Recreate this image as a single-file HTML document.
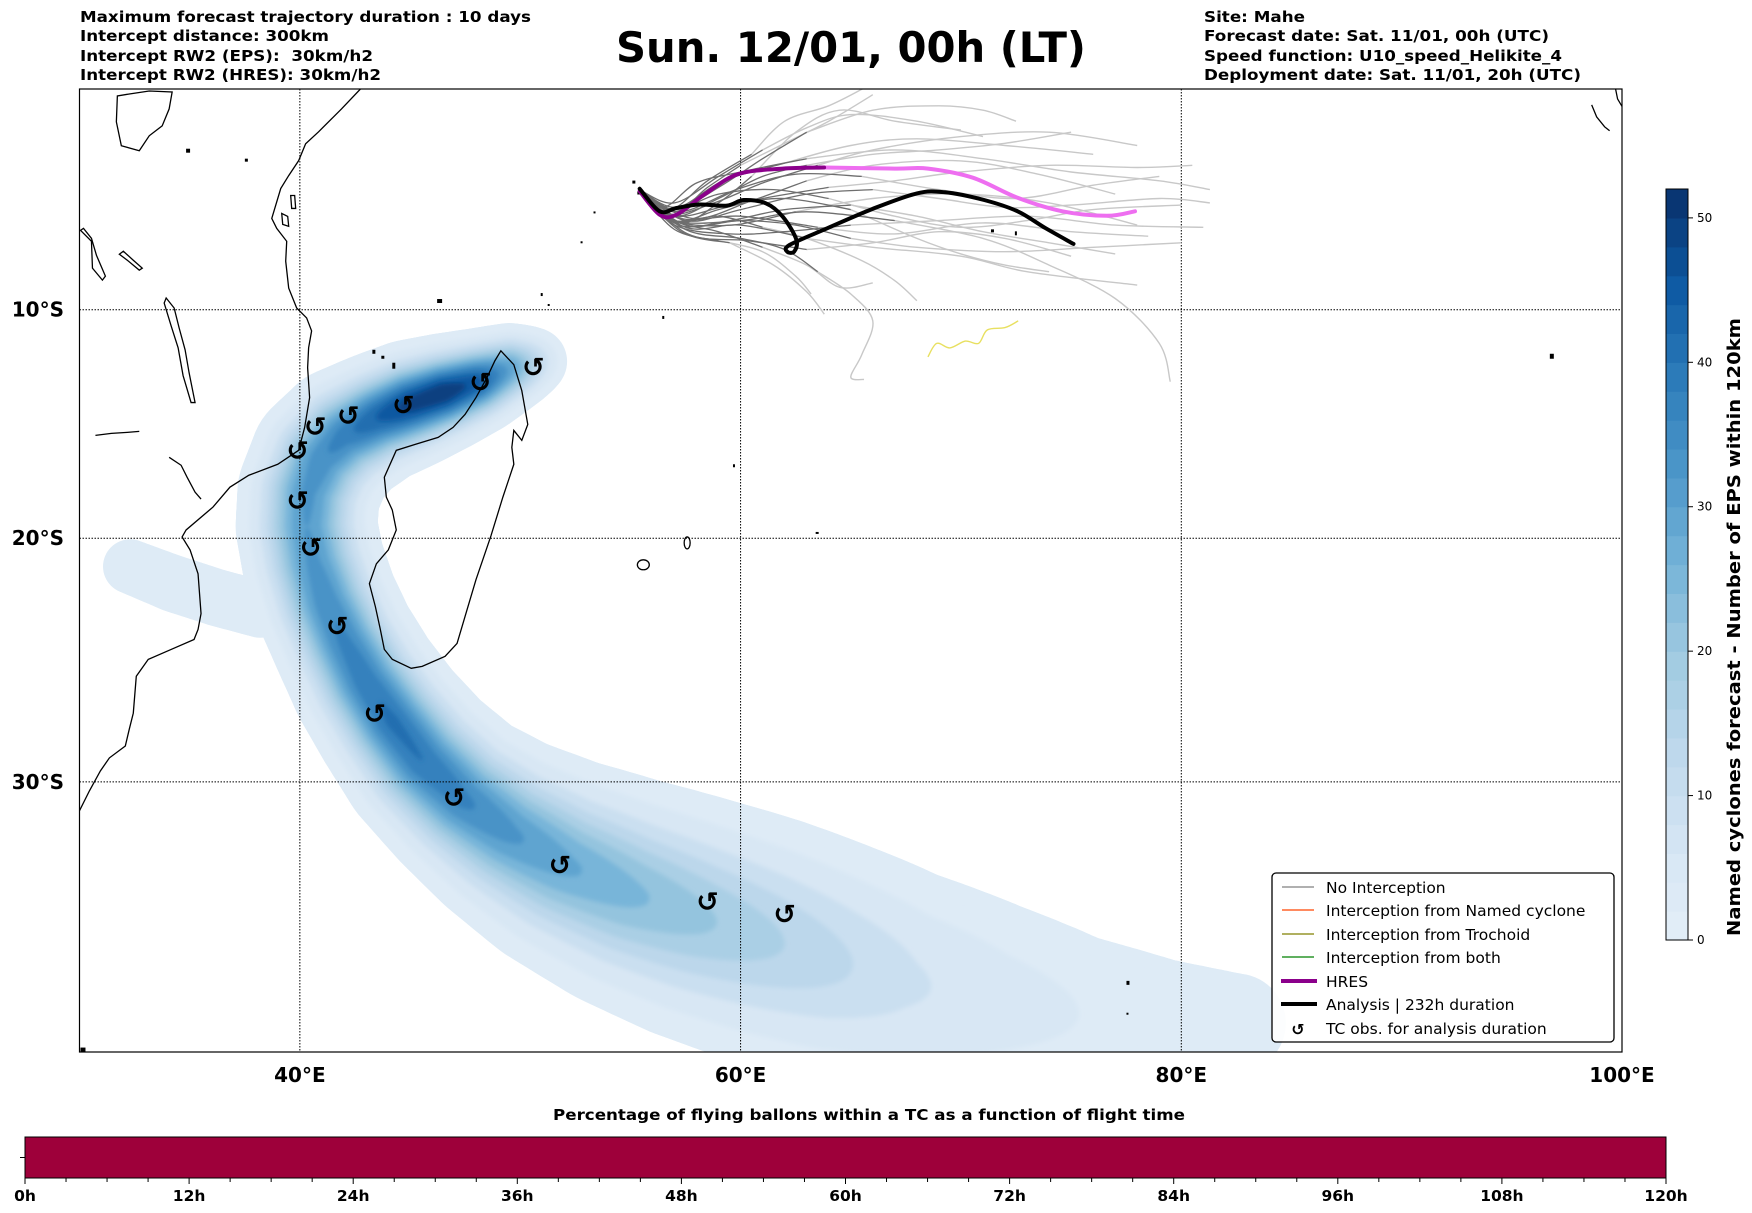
<!DOCTYPE html>
<html><head><meta charset="utf-8">
<style>
html,body{margin:0;padding:0;background:#fff;width:1752px;height:1213px;overflow:hidden}
svg{display:block}
text{font-family:"DejaVu Sans","Liberation Sans",sans-serif}
</style></head>
<body>
<svg id="fig" width="1752" height="1213" viewBox="0 0 1752 1213" xmlns="http://www.w3.org/2000/svg">
<defs>
<clipPath id="mapclip"><rect x="79.5" y="89" width="1542.5" height="963"/></clipPath>
<filter id="soft" x="-5%" y="-5%" width="110%" height="110%"><feGaussianBlur stdDeviation="2.5"/></filter>
</defs>
<g font-weight="bold" font-size="15.5">
<text x="80" y="22" textLength="451" lengthAdjust="spacingAndGlyphs">Maximum forecast trajectory duration : 10 days</text>
<text x="80" y="41" textLength="249" lengthAdjust="spacingAndGlyphs">Intercept distance: 300km</text>
<text x="80" y="61" textLength="293" lengthAdjust="spacingAndGlyphs" xml:space="preserve">Intercept RW2 (EPS):  30km/h2</text>
<text x="80" y="80" textLength="301" lengthAdjust="spacingAndGlyphs">Intercept RW2 (HRES): 30km/h2</text>
</g>
<text x="851" y="62" text-anchor="middle" font-weight="bold" font-size="42" textLength="470" lengthAdjust="spacingAndGlyphs">Sun. 12/01, 00h (LT)</text>
<g font-weight="bold" font-size="15.5">
<text x="1204" y="22" textLength="101" lengthAdjust="spacingAndGlyphs">Site: Mahe</text>
<text x="1204" y="41" textLength="345" lengthAdjust="spacingAndGlyphs">Forecast date: Sat. 11/01, 00h (UTC)</text>
<text x="1204" y="61" textLength="358" lengthAdjust="spacingAndGlyphs">Speed function: U10_speed_Helikite_4</text>
<text x="1204" y="80" textLength="377" lengthAdjust="spacingAndGlyphs">Deployment date: Sat. 11/01, 20h (UTC)</text>
</g>

<g id="map">
<g id="density" clip-path="url(#mapclip)"></g>
<g clip-path="url(#mapclip)">
<g id="coast" fill="none" stroke="#000" stroke-width="1.3" transform="matrix(0.99616 0 0 0.9954 -0.19 -0.59)">
<polyline points="362,90 343,110 320,133 307,145 300,162 290,177 282,190 273,220 278,230 288,243 287,263 290,290 298,310 308,320 313,333 310,350 309,370 311,400 306,430 300,453 279,467 250,478 231,490 214,510 187,533 183,540 191,553 199,577 202,617 199,633 195,643 172,653 149,663 137,680 134,717 130,733 126,750 110,762 101,775 90,795 80,815"/>
<polygon points="503,353 516,367 524,393 530,427 524,443 516,433 514,450 516,467 505,500 493,539 478,583 467,620 459,647 447,660 424,670 413,672 394,663 386,653 382,633 377,610 371,587 378,567 390,553 398,533 394,513 388,500 386,480 398,453 417,447 440,440 455,430 467,417 478,400 489,380 497,363"/>
<polygon points="118,97 117,123 122,147 140,152 150,137 163,127 170,110 173,93 150,92 130,95"/>
<polygon points="81,232 92,243 93,270 103,282 106,278 97,257 92,240 84,230"/>
<polygon points="120,256 128,262 140,272 143,270 134,262 124,253"/>
<polygon points="167,300 175,310 180,330 186,352 190,375 196,405 192,405 184,378 179,350 172,328 165,305"/>
<polyline points="96,438 112,436 128,435 140,434"/>
<polyline points="170,460 182,468 188,480 196,495 202,502"/>
<ellipse cx="646" cy="568" rx="6" ry="5"/>
<ellipse cx="690" cy="546" rx="3" ry="6"/>
<polyline points="1598,106 1603,118 1611,128 1616,132"/>
<polyline points="1622,90 1624,100 1630,110"/>
<polygon points="292,197 296,197 297,210 293,210"/>
<polygon points="283,215 289,218 290,228 284,226"/>
</g>
<g id="specks" fill="#000" transform="matrix(0.99616 0 0 0.9954 -0.19 -0.59)">
<rect x="439" y="301" width="5" height="4"/><rect x="543" y="295" width="2" height="3"/><rect x="550" y="306" width="2" height="2"/>
<rect x="394" y="365" width="3" height="6"/><rect x="374" y="352" width="3" height="4"/><rect x="383" y="358" width="3" height="3"/>
<rect x="736" y="467" width="2" height="3"/><rect x="819" y="535" width="3" height="2"/><rect x="1556" y="356" width="4" height="5"/>
<rect x="635" y="182" width="3" height="3"/><rect x="640" y="193" width="3" height="3"/><rect x="646" y="196" width="3" height="3"/>
<rect x="596" y="213" width="2" height="2"/><rect x="583" y="243" width="2" height="2"/><rect x="1019" y="233" width="2" height="4"/>
<rect x="995" y="231" width="3" height="3"/><rect x="1131" y="986" width="3" height="4"/><rect x="1131" y="1018" width="2" height="2"/>
<rect x="665" y="318" width="2" height="3"/><rect x="81" y="1053" width="5" height="4"/><rect x="187" y="150" width="4" height="4"/><rect x="246" y="160" width="3" height="3"/>
</g>
</g>
<g id="grid" stroke="#000" stroke-width="1" stroke-dasharray="1.5,1.5" fill="none"></g>
<g id="trajs" fill="none" clip-path="url(#mapclip)"></g>
<g id="tcobs"></g>
<rect x="79.5" y="89" width="1542.5" height="963" fill="none" stroke="#000" stroke-width="1.2"/>
<g id="ticklabels" font-weight="bold" font-size="20"></g>

<g>
<rect x="1272" y="873" width="342" height="169" rx="4" fill="#fff" fill-opacity="0.9" stroke="#000" stroke-width="1.3"/>
<g font-size="15.5">
<line x1="1282" y1="887" x2="1314" y2="887" stroke="#808080" stroke-width="1.3"/><text x="1326" y="893">No Interception</text>
<line x1="1282" y1="910" x2="1314" y2="910" stroke="#ff4500" stroke-width="1.3"/><text x="1326" y="916">Interception from Named cyclone</text>
<line x1="1282" y1="934" x2="1314" y2="934" stroke="#808000" stroke-width="1.3"/><text x="1326" y="940">Interception from Trochoid</text>
<line x1="1282" y1="957" x2="1314" y2="957" stroke="#008000" stroke-width="1.3"/><text x="1326" y="963">Interception from both</text>
<line x1="1281" y1="981" x2="1317" y2="981" stroke="#8b008b" stroke-width="4"/><text x="1326" y="987">HRES</text>
<line x1="1281" y1="1004" x2="1317" y2="1004" stroke="#000" stroke-width="4"/><text x="1326" y="1010">Analysis | 232h duration</text>
<text x="1298" y="1035" text-anchor="middle" font-weight="bold" font-size="16">↺</text><text x="1326" y="1034">TC obs. for analysis duration</text>
</g>
</g>
</g>

<g id="cbar"></g>
<text transform="translate(1740,627) rotate(-90)" text-anchor="middle" font-weight="bold" font-size="18" textLength="618" lengthAdjust="spacingAndGlyphs">Named cyclones forecast - Number of EPS within 120km</text>

<text x="869" y="1120" text-anchor="middle" font-weight="bold" font-size="15" textLength="632" lengthAdjust="spacingAndGlyphs">Percentage of flying ballons within a TC as a function of flight time</text>
<g id="tbar"></g>
</svg>
<script>
const NS='http://www.w3.org/2000/svg';
function mk(tag,attrs,parent){const e=document.createElementNS(NS,tag);for(const k in attrs)e.setAttribute(k,attrs[k]);parent.appendChild(e);return e;}
// ---- projection (PlateCarree lon, Mercator lat) ----
function X(lon){return 79.5+(lon-30)*22.036;}
function Y(lat){const m=Math.log(Math.tan(Math.PI/4+lat*Math.PI/360));return 309.7+1263*(-0.17543-m);}

// ---- data ----
const lonTicks=[40,60,80,100];
const latTicks=[-10,-20,-30];
const cbarTicks=[0,10,20,30,40,50];
const cbarMax=52;
const timeTicks=[0,12,24,36,48,60,72,84,96,108,120];
const timePct=[100];
// density track: lon, lat, value (EPS count), spread (px)
const dLon=[50.6,49.5,48,46.5,45,43.5,42,41,40.4,40.3,40.6,41.2,42,43,44.2,45.6,47.4,49.5,52,55,58,61,64,67,71,75,79,82.5];
const dLat=[-12.3,-12.6,-13.2,-13.7,-14.2,-14.8,-15.6,-16.6,-18,-19.5,-21,-22.7,-24.3,-26,-27.6,-29.2,-30.7,-32,-33.2,-34.3,-35.2,-36,-36.8,-37.5,-38.2,-38.7,-39,-39];
const dVal=[12,30,46,52,50,44,38,35,33,32,33,35,37,39,41,40,37,33,29,25,21,17,13,9,6,4,3,2.6];
const dSpread=[16,18,20,22,24,25,27,28,28,28,28,28,28,29,30,32,34,38,43,48,52,55,57,58,58,54,50,42];
const wLon=[32.3,34.2,36.2,38.2];
const wLat=[-21.2,-21.9,-22.5,-23];
const wVal=[3,3,3,3];
const wSpread=[21,22,22,22];
// TC observations
const tcLon=[50.6,48.2,44.7,42.2,40.7,39.9,39.9,40.5,41.7,43.4,47.0,51.8,58.5,62.0];
const tcLat=[-12.57,-13.23,-14.24,-14.72,-15.2,-16.24,-18.4,-20.41,-23.72,-27.3,-30.63,-33.22,-34.61,-35.06];
// HRES trajectory
const hresLon=[55.42,56.33,57.09,58.36,59.88,61.91,63.79,66.99,68.51,70.54,72.57,74.6,76.63,77.9];
const hresLat=[-4.67,-5.73,-5.73,-4.82,-3.9,-3.65,-3.6,-3.65,-3.65,-4.06,-4.97,-5.58,-5.78,-5.58];
// Analysis trajectory
const anaLon=[55.42,56.33,57.09,58.11,59.38,60.14,61.16,61.92,62.53,62.43,62.12,62.22,63.94,65.97,68.0,69.27,71.05,72.57,73.84,75.11];
const anaLat=[-4.56,-5.58,-5.43,-5.27,-5.32,-5.07,-5.22,-5.83,-6.85,-7.4,-7.4,-7.1,-6.34,-5.48,-4.77,-4.72,-5.07,-5.58,-6.34,-7.05];
// ensemble trajectories (lon,lat pairs)
const ens1=[55.4,-4.6,57,-5.6,58.5,-4.5,60,-3.5,62,-2.5,64,-1.5,66,-0.3];
const ens2=[55.4,-4.6,57,-5.8,59,-5,61,-4,63,-3.5,66,-3,69,-2.8,72,-2.5,75,-2.0];
const ens3=[55.4,-4.6,56.8,-5.5,58.5,-4.2,60.5,-3,62,-1.5,64,-0.8,65.6,0];
const ens4=[55.4,-4.6,57,-6,59,-5.5,61,-5,64,-4.5,67,-4.2,70,-3.8,74,-3.5,78,-3.6,80.5,-3.5];
const ens5=[55.4,-4.6,57.2,-6.2,59.5,-6,62,-5.5,65,-5.3,68,-5.8,71,-6.5,74,-7,77,-7.5];
const ens6=[55.4,-4.6,57,-6,59,-6.5,61,-7.2,63,-8,64.5,-9.0,66,-8.8];
const ens7=[55.4,-4.6,57.5,-6.3,60,-6.2,63,-6.8,66,-7.2,70,-7.6,73,-8.3,78,-8.9];
const ens8=[55.4,-4.6,57,-5.5,59,-4.8,61.5,-4.6,64,-5,67,-5.8,70,-6.3,73,-6.0,76,-5.5,80,-5.3];
const ens9=[55.4,-4.6,56.8,-5.7,58.8,-5.2,61,-4.3,63.5,-3.5,66,-2.8,70,-2.2,74,-2.0,78,-2.6];
const ens10=[55.4,-4.6,57.3,-6.5,59.5,-7,61.5,-8,63,-9.2,63.8,-10.2];
const ens11=[55.4,-4.6,57,-6,60,-6,63,-5.6,67,-6.0,71,-6.8,74,-8.0,77,-9.5,79,-11.5,79.5,-13.2];
const ens12=[55.4,-4.6,57,-5.5,59,-4.5,61,-3.2,63,-2.0,66,-1.0,69,-0.8,71,-1.0,72.5,-1.5];
const ens13=[55.4,-4.6,57.5,-6.0,60,-5.5,63,-4.8,66,-4.6,69,-5.0,72,-5.4,75,-5.3,79,-5.0,81.3,-5.2];
const ens14=[55.4,-4.6,57.5,-6.4,60,-6.8,62,-7.3,63.5,-8.3,65,-9.3,66,-10.5,65.5,-12,65,-13.0,65.6,-13.1];
const ens15=[55.4,-4.6,57,-5.8,59.5,-5.3,62,-5.0,65,-5.5,68,-6.8,70,-7.5,72,-8.0,74,-8.3];
const ens16=[55.4,-4.6,57,-5.2,59,-4.0,61,-2.8,63,-1.8,65,-1.2,68,-1.5,71,-2.2];
const ens17=[55.4,-4.6,57.5,-6.2,60,-6.0,62.5,-6.2,65,-6.8,68,-7.2,72,-7.4,76,-7.2,80,-7.0];
const ens18=[55.4,-4.6,57,-6,59,-5.8,61,-6.3,63,-6.8,65.5,-7.8,67,-8.7,68,-9.6];
const ens19=[55.4,-4.6,56.5,-5.4,58,-4.3,60,-3.8,63,-3.2,67,-2.8,71,-3.2,75,-3.8,79,-4.2,81.3,-4.6];
const ens20=[55.4,-4.6,57,-6.2,59.5,-6.6,62,-6.5,65,-6.2,69,-6.0,73,-5.8,77,-6.2,81,-6.3];
const ens21=[55.4,-4.6,57.8,-5.9,60.5,-5.1,63,-4.2,66,-3.5,70,-3.3,73.5,-3.9,77,-4.8];
const ens22=[55.4,-4.6,57.2,-5.6,59.8,-4.6,62.5,-3.9,65.5,-4.0,69,-4.6,72.5,-5.0,76,-4.4,79,-4.0];
const ens23=[55.4,-4.6,57,-6,59.6,-6.2,62.5,-5.6,66,-5.0,70,-4.8,74,-5.2,78,-6.2];
const ens24=[55.4,-4.6,57.6,-6.6,60.3,-6.9,63,-7.3,66,-7.0,69,-6.5,72,-6.8,75,-7.6];
const ens25=[55.4,-4.6,57.2,-6.1,59,-5.2,60.5,-4.0,62.5,-2.0,64.5,-1.0,67,-1.5,70,-1.9];
const ens26=[55.4,-4.6,57,-6.4,59,-6.9,61,-7.4,62.5,-8.5,63.2,-9.3];
const ens27=[55.4,-4.6,57.3,-5.9,60,-5.8,63.5,-6.3,67,-6.6,71,-6.1,75,-6.5,78.5,-6.7];
const ens28=[55.4,-4.6,57.1,-5.4,59.2,-4.2,62,-3.4,65,-2.6,68,-2.3,72,-2.6,76,-3.0];
const ensembles=[ens1,ens2,ens3,ens4,ens5,ens6,ens7,ens8,ens9,ens10,ens11,ens12,ens13,ens14,ens15,ens16,ens17,ens18,ens19,ens20,ens21,ens22,ens23,ens24,ens25,ens26,ens27,ens28];
const trochLon=[68.5,68.9,69.5,70.2,70.8,71.2,72,72.6];
const trochLat=[-12.1,-11.5,-11.7,-11.4,-11.5,-10.9,-10.8,-10.5];

// ---- colormap (Blues) ----
const cmStops=[[0,[227,238,248]],[0.12,[214,230,244]],[0.25,[190,216,236]],[0.38,[160,202,225]],[0.5,[117,179,216]],[0.62,[78,152,202]],[0.75,[44,123,185]],[0.87,[14,90,163]],[1,[8,48,107]]];
function cmap(v){const t=Math.max(0,Math.min(1,v/cbarMax));for(let i=1;i<cmStops.length;i++){if(t<=cmStops[i][0]){const a=cmStops[i-1],b=cmStops[i];const f=(t-a[0])/(b[0]-a[0]);const c=a[1].map((x,j)=>Math.round(x+(b[1][j]-x)*f));return 'rgb('+c.join(',')+')';}}return 'rgb(8,48,107)';}

// ---- density ----
const dens=document.getElementById('density');
const levels=[1.3,4,8,12,16,20,24,28,32,36,40,44,48];
function track(lons,lats,vals,sps,step){const out=[];for(let i=0;i<lons.length-1;i++){for(let s=0;s<step;s++){const f=s/step;out.push([lons[i]+(lons[i+1]-lons[i])*f,lats[i]+(lats[i+1]-lats[i])*f,vals[i]+(vals[i+1]-vals[i])*f,sps[i]+(sps[i+1]-sps[i])*f]);}}const n=lons.length-1;out.push([lons[n],lats[n],vals[n],sps[n]]);return out;}
const pts=track(dLon,dLat,dVal,dSpread,12).concat(track(wLon,wLat,wVal,wSpread,12));
levels.forEach((t,li)=>{const g=mk('g',{fill:cmap(li===0?2.5:t+1.5),filter:li===0?'':'url(#soft)'},dens);


pts.forEach(p=>{if(p[2]>t){const r=p[3]*Math.sqrt(2*Math.log(p[2]/t));mk('circle',{cx:X(p[0]).toFixed(1),cy:Y(p[1]).toFixed(1),r:r.toFixed(1)},g);}});});

// ---- grid ----
const grid=document.getElementById('grid');
lonTicks.forEach(l=>{if(l<100){const e=mk('line',{x1:X(l),x2:X(l),y1:89,y2:1052},grid);

}});
latTicks.forEach(l=>{const e=mk('line',{x1:79.5,x2:1622,y1:Y(l),y2:Y(l)},grid);

});
const tl=document.getElementById('ticklabels');
lonTicks.forEach(l=>{const e=mk('text',{x:X(l),y:1082,'text-anchor':'middle'},tl);e.textContent=l+'°E';

});
latTicks.forEach(l=>{const e=mk('text',{x:64,y:Y(l)+7,'text-anchor':'end'},tl);e.textContent=(-l)+'°S';

});

// ---- trajectories ----
function smoothPath(P){let d='M'+P[0][0].toFixed(1)+','+P[0][1].toFixed(1);for(let i=0;i<P.length-1;i++){const p0=P[Math.max(0,i-1)],p1=P[i],p2=P[i+1],p3=P[Math.min(P.length-1,i+2)];const c1=[p1[0]+(p2[0]-p0[0])/6,p1[1]+(p2[1]-p0[1])/6],c2=[p2[0]-(p3[0]-p1[0])/6,p2[1]-(p3[1]-p1[1])/6];d+='C'+c1[0].toFixed(1)+','+c1[1].toFixed(1)+' '+c2[0].toFixed(1)+','+c2[1].toFixed(1)+' '+p2[0].toFixed(1)+','+p2[1].toFixed(1);}return d;}
const tr=document.getElementById('trajs');
const light=mk('g',{stroke:'#c8c8c8','stroke-width':1.4},tr);


const dark=mk('g',{stroke:'#6e6e6e','stroke-width':1.3},tr);


ensembles.forEach((a,k)=>{const P=[];for(let i=0;i<a.length;i+=2)P.push([X(a[i]),Y(a[i+1])]);
const split=Math.max(2,Math.ceil(P.length*0.45));
const e1=mk('path',{d:smoothPath(P.slice(split-1))},light);


const e2=mk('path',{d:smoothPath(P.slice(0,split))},dark);

});
const TP=trochLon.map((l,i)=>[X(l),Y(trochLat[i])]);
const ty=mk('path',{d:smoothPath(TP),stroke:'#e8e060','stroke-width':1.4},tr);


const HP=hresLon.map((l,i)=>[X(l),Y(hresLat[i])]);
const h2=mk('path',{d:smoothPath(HP.slice(6)),stroke:'#ee6ef0','stroke-width':4,'stroke-linecap':'round'},tr);


const h1=mk('path',{d:smoothPath(HP.slice(0,7)),stroke:'#8b008b','stroke-width':4,'stroke-linecap':'round'},tr);


const AP=anaLon.map((l,i)=>[X(l),Y(anaLat[i])]);
const an=mk('path',{d:smoothPath(AP),stroke:'#000','stroke-width':4,'stroke-linecap':'round','stroke-linejoin':'round'},tr);



// ---- TC obs markers ----
const tg=document.getElementById('tcobs');
tcLon.forEach((l,i)=>{const e=mk('text',{x:X(l),y:Y(tcLat[i])+9,'text-anchor':'middle','font-size':27,'font-weight':'bold'},tg);e.textContent='↺';

});

// ---- colorbar ----
const cb=document.getElementById('cbar');
const cbTop=189,cbBot=940,cbX=1666,cbW=22;
function cY(v){return cbBot-(cbBot-cbTop)*v/cbarMax;}
for(let v=0;v<cbarMax;v+=2){const e=mk('rect',{x:cbX,y:cY(v+2).toFixed(1),width:cbW,height:(cY(v)-cY(v+2)+0.6).toFixed(1),fill:cmap(v+1)},cb);

}
mk('rect',{x:cbX,y:cbTop,width:cbW,height:cbBot-cbTop,fill:'none',stroke:'#000','stroke-width':1},cb);
cbarTicks.forEach(v=>{mk('line',{x1:cbX+cbW,x2:cbX+cbW+5,y1:cY(v),y2:cY(v),stroke:'#000'},cb);
const e=mk('text',{x:cbX+cbW+9,y:cY(v)+4,'font-size':12},cb);e.textContent=v;

});

// ---- flight time bar ----
const tb=document.getElementById('tbar');
const bx0=25,bx1=1666,by0=1137,by1=1178;
function tX(h){return bx0+(bx1-bx0)*h/120;}
const br=mk('rect',{x:bx0,y:by0,width:((bx1-bx0)*timePct[0]/100).toFixed(1),height:by1-by0,fill:'#9e003a',stroke:'#000','stroke-width':1},tb);


mk('line',{x1:bx0-5,x2:bx0,y1:(by0+by1)/2,y2:(by0+by1)/2,stroke:'#000'},tb);
for(let h=0;h<=120;h+=3){mk('line',{x1:tX(h),x2:tX(h),y1:by1,y2:by1+(h%12===0?6:4),stroke:'#000','stroke-width':1},tb);}
timeTicks.forEach(h=>{const e=mk('text',{x:tX(h),y:1201,'text-anchor':'middle','font-size':15.5,'font-weight':'bold'},tb);e.textContent=h+'h';

});
</script>
</body></html>
